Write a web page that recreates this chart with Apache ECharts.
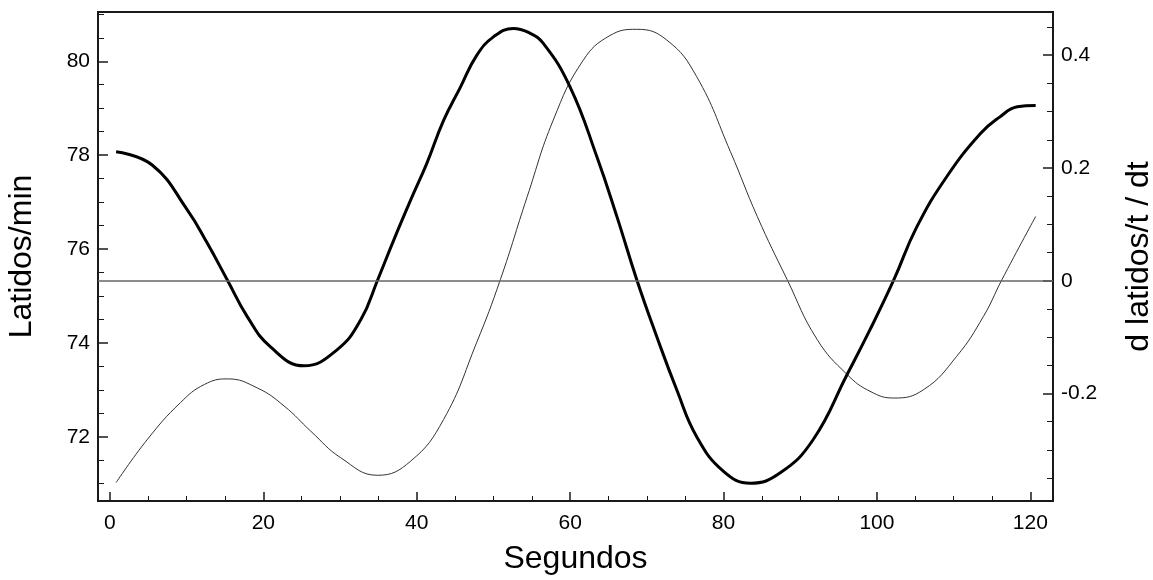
<!DOCTYPE html>
<html>
<head>
<meta charset="utf-8">
<script src="https://cdn.jsdelivr.net/npm/echarts@6/dist/echarts.min.js"></script>
<style>
  html, body { margin: 0; padding: 0; background: #fff; }
  #chart { width: 1153px; height: 580px; }
</style>
</head>
<body>
<div id="chart"></div>
<script>
// latidos/min (left axis, thick line)
var tLatidos = [0.8, 5.5, 10.1, 12.7, 15.3, 17.9, 20.9, 25.3, 29.6, 32.7, 34.9, 37.0, 39.2, 41.3, 43.5, 45.7, 47.8, 50.0, 52.6, 54.5, 56.5, 60.0, 63.5, 66.1, 68.7, 71.3, 73.9, 76.5, 80.0, 83.5, 87.4, 91.7, 96.1, 99.1, 102.2, 105.2, 109.1, 113.5, 116.0, 118.3, 120.7];
var latidos = [78.07, 77.79, 76.83, 76.12, 75.34, 74.56, 73.92, 73.51, 73.85, 74.49, 75.34, 76.19, 77.04, 77.82, 78.74, 79.45, 80.12, 80.52, 80.70, 80.62, 80.38, 79.45, 77.96, 76.69, 75.34, 74.13, 73.0, 72.0, 71.26, 71.01, 71.23, 71.94, 73.32, 74.28, 75.34, 76.47, 77.54, 78.46, 78.81, 79.03, 79.06];

// d latidos/t / dt (right axis, thin line)
var tDeriv = [0.8, 4.9, 9.2, 12.3, 15.3, 19.2, 22.7, 26.2, 30.1, 34.9, 39.2, 43.5, 47.8, 50.9, 54.4, 57.8, 61.7, 65.2, 68.7, 72.6, 76.5, 80.9, 84.4, 88.3, 92.2, 96.1, 99.1, 102.2, 106.1, 110.4, 113.9, 116.3, 120.7];
var deriv = [-0.358, -0.281, -0.216, -0.184, -0.174, -0.190, -0.222, -0.267, -0.314, -0.345, -0.320, -0.246, -0.110, 0.002, 0.149, 0.285, 0.391, 0.435, 0.446, 0.427, 0.362, 0.229, 0.114, 0.002, -0.104, -0.166, -0.196, -0.208, -0.193, -0.134, -0.063, 0.002, 0.114];

function pairs(xs, ys) {
    return xs.map(function (x, i) { return [x, ys[i]]; });
}

var myChart = echarts.init(document.getElementById('chart'));

var fontFam = '"Liberation Sans", Arial, Helvetica, sans-serif';
var frameColor = '#1a1a1a';

function axisBits(tickLen, minorLen) {
    return {
        axisLine: { show: true, onZero: false, lineStyle: { color: frameColor, width: 2 } },
        axisTick: { show: true, inside: true, length: tickLen, lineStyle: { color: frameColor, width: 1.5 } },
        minorTick: { show: true, splitNumber: 4, length: minorLen, lineStyle: { color: frameColor, width: 1 } },
        splitLine: { show: false }
    };
}

var option = {
    animation: false,
    backgroundColor: '#fff',
    grid: {
        left: 98, right: 100, top: 12, bottom: 79,
        outerBoundsMode: 'none',
        show: true, borderColor: frameColor, borderWidth: 2,
        backgroundColor: 'transparent'
    },
    xAxis: Object.assign({
        type: 'value',
        min: -1.56, max: 122.96,
        splitNumber: 6,
        name: 'Segundos',
        nameLocation: 'middle',
        nameGap: 42,
        nameTextStyle: { fontSize: 32, color: '#000', fontFamily: fontFam },
        axisLabel: { showMinLabel: false, showMaxLabel: false, fontSize: 21, color: '#000', fontFamily: fontFam, margin: 12 }
    }, axisBits(9, 5)),
    yAxis: [Object.assign({
        type: 'value',
        position: 'left',
        min: 70.63, max: 81.05,
        splitNumber: 5,
        name: 'Latidos/min',
        nameLocation: 'middle',
        nameGap: 60,
        nameTextStyle: { fontSize: 32, color: '#000', fontFamily: fontFam },
        axisLabel: { showMinLabel: false, showMaxLabel: false, fontSize: 21, color: '#000', fontFamily: fontFam, margin: 8 }
    }, axisBits(10, 6)), Object.assign({
        type: 'value',
        position: 'right',
        min: -0.3906, max: 0.4767,
        splitNumber: 5,
        name: 'd latidos/t / dt',
        nameLocation: 'middle',
        nameGap: 70,
        nameRotate: 90,
        nameTextStyle: { fontSize: 32, color: '#000', fontFamily: fontFam },
        axisLabel: { showMinLabel: false, showMaxLabel: false, fontSize: 21, color: '#000', fontFamily: fontFam, margin: 8 }
    }, axisBits(10, 6))],
    series: [{
        name: 'Latidos/min',
        type: 'line',
        yAxisIndex: 0,
        data: pairs(tLatidos, latidos),
        smooth: 0.45,
        showSymbol: false,
        lineStyle: { color: '#000', width: 3 },
        z: 3
    }, {
        name: 'd latidos/t / dt',
        type: 'line',
        yAxisIndex: 1,
        data: pairs(tDeriv, deriv),
        smooth: 0.45,
        showSymbol: false,
        lineStyle: { color: '#333', width: 1 },
        markLine: {
            silent: true,
            symbol: ['none', 'none'],
            label: { show: false },
            lineStyle: { color: '#666', width: 1.5, type: 'solid' },
            data: [{ yAxis: 0 }]
        },
        z: 2
    }]
};

option && myChart.setOption(option);
</script>
</body>
</html>
